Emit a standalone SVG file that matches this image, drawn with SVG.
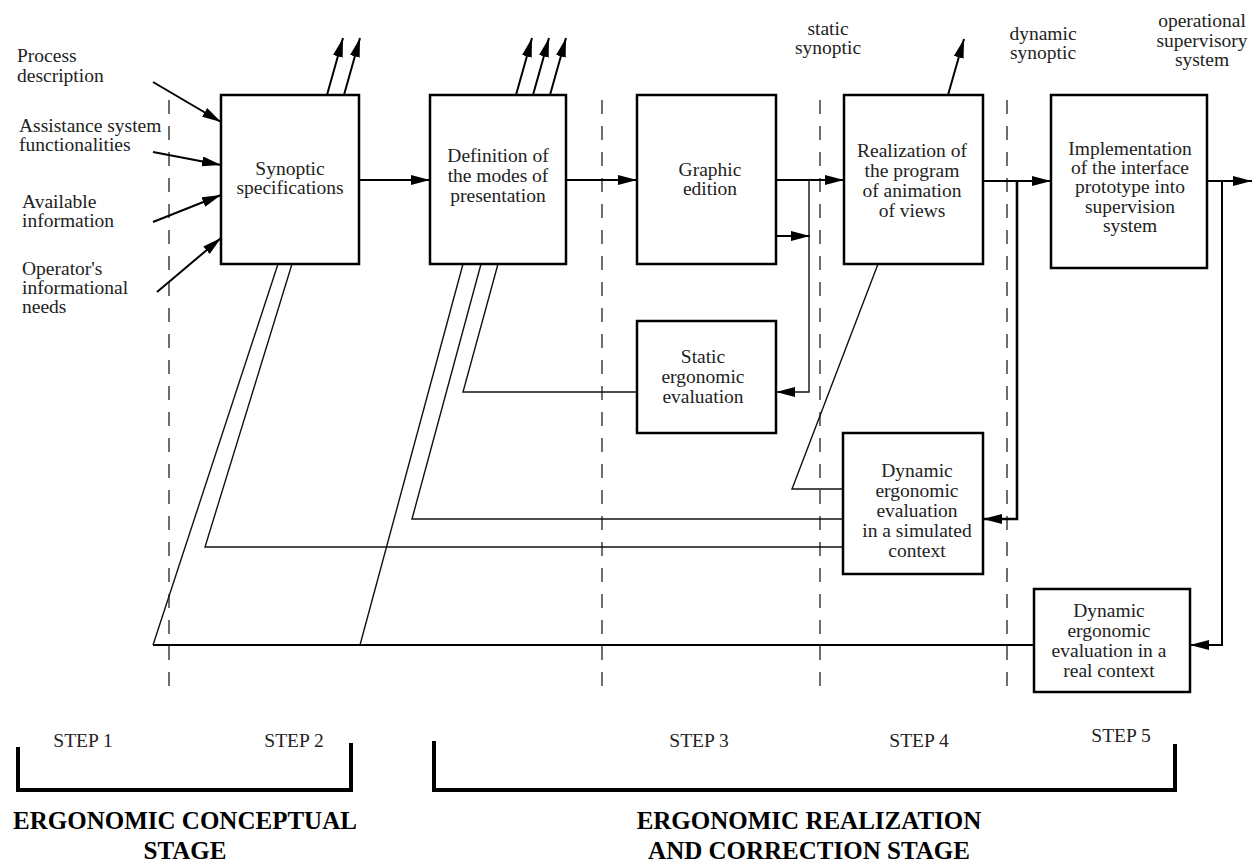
<svg xmlns="http://www.w3.org/2000/svg" width="1260" height="864" viewBox="0 0 1260 864">
<style>
text{font-family:"Liberation Serif","Times New Roman",serif;font-size:19.5px;fill:#222}
.c{text-anchor:middle}
.b{font-weight:bold;font-size:25px;fill:#000}
.box{fill:#fff;stroke:#000;stroke-width:2.5}
.dash{stroke:#222;stroke-width:1.3;stroke-dasharray:14 12;fill:none}
.thin{stroke:#111;stroke-width:1.4;fill:none}
.med{stroke:#000;stroke-width:2;fill:none}
.thick{stroke:#000;stroke-width:2.6;fill:none}
.br{stroke:#000;stroke-width:4;fill:none}
</style>
<defs>
<marker id="ah" markerUnits="userSpaceOnUse" markerWidth="20" markerHeight="12" refX="19" refY="5" orient="auto">
<path d="M0,0 L19,5 L0,10 z" fill="#000"/>
</marker>
</defs>
<rect width="1260" height="864" fill="#fff"/>
<g id="dashed">
<line class="dash" x1="169" y1="100" x2="169" y2="688"/>
<line class="dash" x1="602" y1="100" x2="602" y2="688"/>
<line class="dash" x1="820" y1="100" x2="820" y2="688"/>
<line class="dash" x1="1007" y1="100" x2="1007" y2="688"/>
</g>
<g id="connectors">
<line class="med" x1="153" y1="82" x2="221" y2="122" marker-end="url(#ah)"/>
<line class="med" x1="153" y1="152" x2="221" y2="165" marker-end="url(#ah)"/>
<line class="med" x1="153" y1="222" x2="221" y2="195" marker-end="url(#ah)"/>
<line class="med" x1="157" y1="292" x2="221" y2="238" marker-end="url(#ah)"/>
<line class="med" x1="327" y1="95" x2="343" y2="38" marker-end="url(#ah)"/>
<line class="med" x1="344" y1="95" x2="360" y2="38" marker-end="url(#ah)"/>
<line class="med" x1="516" y1="95" x2="532" y2="38" marker-end="url(#ah)"/>
<line class="med" x1="533" y1="95" x2="549" y2="38" marker-end="url(#ah)"/>
<line class="med" x1="550" y1="95" x2="566" y2="38" marker-end="url(#ah)"/>
<line class="med" x1="948" y1="95" x2="964" y2="39" marker-end="url(#ah)"/>
<line class="med" x1="359" y1="180" x2="430" y2="180" marker-end="url(#ah)"/>
<line class="med" x1="566" y1="180" x2="637" y2="180" marker-end="url(#ah)"/>
<line class="med" x1="776" y1="180" x2="844" y2="180" marker-end="url(#ah)"/>
<line class="med" x1="983" y1="181" x2="1051" y2="181" marker-end="url(#ah)"/>
<line class="med" x1="1207" y1="181" x2="1252" y2="181" marker-end="url(#ah)"/>
<line class="med" x1="776" y1="236" x2="810" y2="236" marker-end="url(#ah)"/>
<polyline class="thin" points="809,180 809,392 776,392" marker-end="url(#ah)"/>
<polyline class="thin" points="637,392 463,392 498,264"/>
<polyline class="thin" points="481,264 412,519 843,519"/>
<polyline class="thin" points="463,264 360,645"/>
<polyline class="thin" points="292,264 205,547 843,547"/>
<polyline class="thin" points="278,264 153,645"/>
<polyline class="thin" points="878,264 792,489 843,489"/>
<polyline class="thick" points="1017,181 1017,519 983,519" marker-end="url(#ah)"/>
<polyline class="med" points="1222,181 1222,645 1190,645" marker-end="url(#ah)"/>
<line class="med" x1="153" y1="645" x2="1034" y2="645"/>
</g>
<g id="inputs">
<text x="17" y="62">Process</text>
<text x="17" y="82">description</text>
<text x="19" y="132">Assistance system</text>
<text x="19" y="151">functionalities</text>
<text x="22" y="208">Available</text>
<text x="22" y="227">information</text>
<text x="22" y="275">Operator's</text>
<text x="22" y="294">informational</text>
<text x="22" y="313">needs</text>
</g>
<g id="outputs">
<text class="c" x="828" y="35">static</text>
<text class="c" x="828" y="54">synoptic</text>
<text class="c" x="1043" y="40">dynamic</text>
<text class="c" x="1043" y="59">synoptic</text>
<text class="c" x="1202" y="27">operational</text>
<text class="c" x="1202" y="47">supervisory</text>
<text class="c" x="1202" y="66">system</text>
</g>
<g id="synoptic-specifications">
<rect class="box" x="221" y="95" width="138" height="169"/>
<text class="c" x="290" y="175">Synoptic</text>
<text class="c" x="290" y="194">specifications</text>
</g>
<g id="definition-modes">
<rect class="box" x="430" y="95" width="136" height="169"/>
<text class="c" x="498" y="162">Definition of</text>
<text class="c" x="498" y="182">the modes of</text>
<text class="c" x="498" y="202">presentation</text>
</g>
<g id="graphic-edition">
<rect class="box" x="637" y="95" width="139" height="169"/>
<text class="c" x="710" y="176">Graphic</text>
<text class="c" x="710" y="195">edition</text>
</g>
<g id="realization">
<rect class="box" x="844" y="95" width="139" height="169"/>
<text class="c" x="912" y="157">Realization of</text>
<text class="c" x="912" y="177">the program</text>
<text class="c" x="912" y="197">of animation</text>
<text class="c" x="912" y="217">of views</text>
</g>
<g id="implementation">
<rect class="box" x="1051" y="95" width="156" height="173"/>
<text class="c" x="1130" y="155">Implementation</text>
<text class="c" x="1130" y="174">of the interface</text>
<text class="c" x="1130" y="193">prototype into</text>
<text class="c" x="1130" y="213">supervision</text>
<text class="c" x="1130" y="232">system</text>
</g>
<g id="static-evaluation">
<rect class="box" x="637" y="321" width="139" height="112"/>
<text class="c" x="703" y="363">Static</text>
<text class="c" x="703" y="383">ergonomic</text>
<text class="c" x="703" y="403">evaluation</text>
</g>
<g id="dynamic-simulated">
<rect class="box" x="843" y="433" width="140" height="141"/>
<text class="c" x="917" y="477">Dynamic</text>
<text class="c" x="917" y="497">ergonomic</text>
<text class="c" x="917" y="517">evaluation</text>
<text class="c" x="917" y="537">in a simulated</text>
<text class="c" x="917" y="557">context</text>
</g>
<g id="dynamic-real">
<rect class="box" x="1034" y="589" width="156" height="103"/>
<text class="c" x="1109" y="617">Dynamic</text>
<text class="c" x="1109" y="637">ergonomic</text>
<text class="c" x="1109" y="657">evaluation in a</text>
<text class="c" x="1109" y="677">real context</text>
</g>
<g id="steps">
<text class="c" x="83" y="747">STEP 1</text>
<text class="c" x="294" y="747">STEP 2</text>
<text class="c" x="699" y="747">STEP 3</text>
<text class="c" x="919" y="747">STEP 4</text>
<text class="c" x="1121" y="742">STEP 5</text>
<polyline class="br" points="18,747 18,790 351,790 351,743"/>
<polyline class="br" points="434,741 434,790 1175,790 1175,744"/>
<text class="c b" x="185" y="829">ERGONOMIC CONCEPTUAL</text>
<text class="c b" x="185" y="859">STAGE</text>
<text class="c b" x="809" y="829">ERGONOMIC REALIZATION</text>
<text class="c b" x="809" y="859">AND CORRECTION STAGE</text>
</g>
</svg>
